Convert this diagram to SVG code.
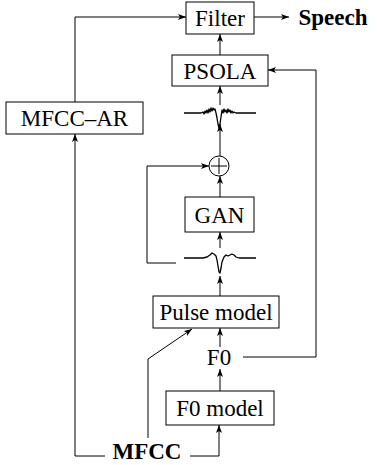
<svg xmlns="http://www.w3.org/2000/svg" width="377" height="465" viewBox="0 0 377 465">
<defs>
<marker id="ah" viewBox="0 0 8 6" refX="8" refY="3" markerWidth="8" markerHeight="6" markerUnits="userSpaceOnUse" orient="auto">
<path d="M0,0 L8,3 L0,6 L2,3 Z" fill="#000"/>
</marker>
<style>
.box{fill:#fff;stroke:#000;stroke-width:1}
.t{font-family:"Liberation Serif","Times New Roman",serif;font-size:23px;fill:#000;text-anchor:middle}
.b{font-weight:bold}
.c{fill:none;stroke:#000;stroke-width:1}
.w{fill:none;stroke:#000;stroke-width:1.3;stroke-linejoin:round}
.a{marker-end:url(#ah)}
</style>
</defs>
<g id="connectors">
<polyline class="c a" points="75,102 75,17 186,17"/>
<line class="c a" x1="254" y1="17" x2="289" y2="17"/>
<line class="c a" x1="220" y1="55" x2="220" y2="34"/>
<polyline class="c a" points="243,357 316,357 316,70 268,70"/>
<line class="c a" x1="220" y1="105" x2="220" y2="86"/>
<line class="c a" x1="220" y1="156" x2="220" y2="124"/>
<line class="c a" x1="220" y1="197" x2="220" y2="176"/>
<polyline class="c a" points="176,263 147,263 147,166 209,166"/>
<line class="c a" x1="220" y1="248" x2="220" y2="232"/>
<line class="c a" x1="220" y1="296" x2="220" y2="276"/>
<line class="c a" x1="220" y1="347" x2="220" y2="328"/>
<line class="c a" x1="220" y1="391" x2="220" y2="369"/>
<polyline class="c a" points="190,456 219,456 219,425"/>
<polyline class="c a" points="105,456 75,456 75,134"/>
<polyline class="c a" points="148,438 148,359 192,329"/>
</g>
<g id="wave1">
<path class="w" d="M184,113 L201,113 L203,112 L204,114 L205,111 L206,113 L207,110 L208,113 L209,109 L210,112 L211,108 L212,111 L213,108 L214,110 L215,109 L216,113 L217,118 L218,124 L219,128 L220,124 L221,117 L222,110 L223,113 L224,109 L225,112 L226,110 L227,113 L228,109 L229,112 L230,110 L231,113 L232,111 L233,113 L234,112 L236,113 L256,113"/>
</g>
<g id="wave2">
<path class="w" d="M184,258 L203,258 L207,257 L210,255 L212,253 L214,254 L216,256 L217,260 L218,266 L219,272 L220,273 L221,268 L222,262 L224,257 L226,255 L228,256 L230,255 L232,254 L234,255 L236,257 L239,258 L256,258"/>
</g>
<g id="speech"><text class="t b" x="333" y="25">Speech</text></g>
<g id="filter"><rect class="box" x="186" y="2" width="68" height="32"/><text class="t" x="220" y="26">Filter</text></g>
<g id="psola"><rect class="box" x="172" y="55" width="96" height="31"/><text class="t" x="220" y="79">PSOLA</text></g>
<g id="mfcc-ar"><rect class="box" x="6" y="102" width="137" height="32"/><text class="t" x="74.5" y="126">MFCC–AR</text></g>
<g id="sum"><circle class="box" cx="219" cy="166" r="10"/><path class="c" d="M219,158 L219,174 M211,166 L227,166"/></g>
<g id="gan"><rect class="box" x="185" y="197" width="69" height="35"/><text class="t" x="219.5" y="223">GAN</text></g>
<g id="pulse"><rect class="box" x="153" y="296" width="126" height="32"/><text class="t" x="216" y="320">Pulse model</text></g>
<g id="f0"><text class="t" x="219" y="365">F0</text></g>
<g id="f0model"><rect class="box" x="166" y="391" width="108" height="34"/><text class="t" x="220" y="416">F0 model</text></g>
<g id="mfcc"><text class="t b" x="147" y="459">MFCC</text></g>
</svg>
